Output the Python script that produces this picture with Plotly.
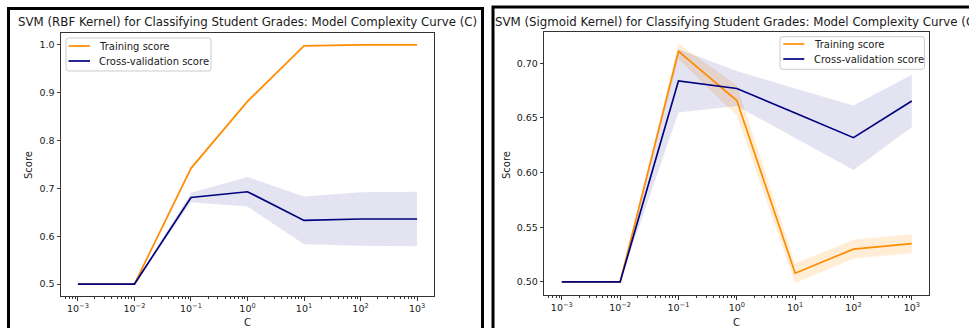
import numpy as np
import plotly.graph_objects as go

# ---------------- data ----------------
C_values = [1e-3, 1e-2, 1e-1, 1, 10, 100, 1000]
tick_labels = ["10<sup>−3</sup>", "10<sup>−2</sup>", "10<sup>−1</sup>", "10<sup>0</sup>",
               "10<sup>1</sup>", "10<sup>2</sup>", "10<sup>3</sup>"]

rbf_train_mean = [0.5, 0.5, 0.742, 0.882, 0.998, 1.0, 1.0]
rbf_train_std = [0.0, 0.0, 0.003, 0.003, 0.001, 0.0, 0.0]
rbf_cv_mean = [0.5, 0.5, 0.681, 0.693, 0.633, 0.636, 0.636]
rbf_cv_std = [0.0, 0.0, 0.010, 0.031, 0.050, 0.056, 0.057]

sig_train_mean = [0.5, 0.5, 0.711, 0.666, 0.508, 0.530, 0.535]
sig_train_std = [0.0, 0.0, 0.007, 0.014, 0.009, 0.0085, 0.0087]
sig_cv_mean = [0.5, 0.5, 0.684, 0.677, 0.6545, 0.632, 0.6655]
sig_cv_std = [0.0, 0.0, 0.029, 0.016, 0.0225, 0.0295, 0.024]

series_names = ["Training score", "Cross-validation score"]
titles = ["SVM (RBF Kernel) for Classifying Student Grades: Model Complexity Curve (C)",
          "SVM (Sigmoid Kernel) for Classifying Student Grades: Model Complexity Curve (C)"]

# ---------------- style ----------------
W, H = 969, 328
FONT = "DejaVu Sans"
ORANGE = "#FF8C00"
NAVY = "#000080"
ORANGE_FILL = "rgba(255,140,0,0.16)"
NAVY_FILL = "rgba(0,0,128,0.11)"
AX = "#333333"
TXT = "#1a1a1a"

# axes boxes in pixels: (left, right, top, bottom)
boxes = [(61, 434, 33, 296), (544.3, 929.3, 31.7, 295)]
# legend boxes in pixels: (left, right, top, bottom, line_x0, line_x1, text_x, row1_y, row2_y)
legends = [(66, 211, 38, 71, 68.5, 90, 97, 46, 61),
           (780, 924.5, 36.7, 69.3, 783.3, 804.3, 811.7, 44, 59)]


def px_x(v):
    return v / W


def px_y(v):
    return 1 - v / H


def rounded_rect(l, r, t, b, rad=2.5):
    pts = [
        f"M {px_x(l + rad)},{px_y(t)}",
        f"L {px_x(r - rad)},{px_y(t)}",
        f"Q {px_x(r)},{px_y(t)} {px_x(r)},{px_y(t + rad)}",
        f"L {px_x(r)},{px_y(b - rad)}",
        f"Q {px_x(r)},{px_y(b)} {px_x(r - rad)},{px_y(b)}",
        f"L {px_x(l + rad)},{px_y(b)}",
        f"Q {px_x(l)},{px_y(b)} {px_x(l)},{px_y(b - rad)}",
        f"L {px_x(l)},{px_y(t + rad)}",
        f"Q {px_x(l)},{px_y(t)} {px_x(l + rad)},{px_y(t)}",
        "Z",
    ]
    return " ".join(pts)


fig = go.Figure()

panels = [
    (rbf_train_mean, rbf_train_std, rbf_cv_mean, rbf_cv_std),
    (sig_train_mean, sig_train_std, sig_cv_mean, sig_cv_std),
]

yranges = []
for i, (tm, ts, cm, cs) in enumerate(panels):
    xa = "x" if i == 0 else "x2"
    ya = "y" if i == 0 else "y2"
    tm, ts, cm, cs = map(np.array, (tm, ts, cm, cs))
    for m, s, fc in ((tm, ts, ORANGE_FILL), (cm, cs, NAVY_FILL)):
        fig.add_trace(go.Scatter(
            x=list(C_values) + list(C_values[::-1]),
            y=list(m + s) + list((m - s)[::-1]),
            fill="toself", fillcolor=fc, line=dict(width=0),
            mode="lines", hoverinfo="skip", showlegend=False,
            xaxis=xa, yaxis=ya))
    fig.add_trace(go.Scatter(x=C_values, y=tm, mode="lines", name=series_names[0],
                             line=dict(color=ORANGE, width=1.7), xaxis=xa, yaxis=ya,
                             showlegend=False))
    fig.add_trace(go.Scatter(x=C_values, y=cm, mode="lines", name=series_names[1],
                             line=dict(color=NAVY, width=1.7), xaxis=xa, yaxis=ya,
                             showlegend=False))
    lo = min((tm - ts).min(), (cm - cs).min())
    hi = max((tm + ts).max(), (cm + cs).max())
    pad = (hi - lo) * 0.05
    yranges.append([lo - pad, hi + pad])

minor_vals = [k * 10.0 ** n for n in range(-4, 4) for k in range(2, 10)
              if 10 ** -3.3 <= k * 10.0 ** n <= 10 ** 3.3]

common_x = dict(type="log", range=[-3.3, 3.3], tickvals=C_values, ticktext=tick_labels,
                ticks="outside", ticklen=3.5, tickwidth=0.8, tickcolor=AX,
                showline=True, linecolor=AX, linewidth=1, mirror=True,
                showgrid=False, zeroline=False, automargin=False,
                tickfont=dict(family=FONT, size=9.5, color=TXT),
                minor=dict(tickvals=minor_vals, ticks="outside", ticklen=2,
                           tickwidth=0.6, tickcolor=AX, showgrid=False))
common_y = dict(ticks="outside", ticklen=3.5, tickwidth=0.8, tickcolor=AX,
                showline=True, linecolor=AX, linewidth=1, mirror=True,
                showgrid=False, zeroline=False, automargin=False,
                tickfont=dict(family=FONT, size=9.5, color=TXT))

l, r, t, b = boxes[0]
fig.update_layout(
    xaxis=dict(common_x, domain=[px_x(l), px_x(r)], anchor="y"),
    yaxis=dict(common_y, domain=[px_y(b), px_y(t)], anchor="x", range=yranges[0],
               tickvals=[0.5, 0.6, 0.7, 0.8, 0.9, 1.0], tickformat=".1f"),
)
l, r, t, b = boxes[1]
fig.update_layout(
    xaxis2=dict(common_x, domain=[px_x(l), px_x(r)], anchor="y2"),
    yaxis2=dict(common_y, domain=[px_y(b), px_y(t)], anchor="x2", range=yranges[1],
                tickvals=[0.5, 0.55, 0.6, 0.65, 0.7], tickformat=".2f"),
)

annotations = []
shapes = []
for i, (l, r, t, b) in enumerate(boxes):
    cx = (l + r) / 2
    annotations.append(dict(text=titles[i], x=px_x(cx), y=px_y(22), xref="paper", yref="paper",
                            showarrow=False, xanchor="center", yanchor="middle",
                            font=dict(family=FONT, size=11.8, color=TXT)))
    annotations.append(dict(text="C", x=px_x(cx), y=px_y(322), xref="paper", yref="paper",
                            showarrow=False, xanchor="center", yanchor="middle",
                            font=dict(family=FONT, size=10, color=TXT)))
    # legend (matplotlib style)
    ll, lr, lt, lb, lx0, lx1, tx, ry1, ry2 = legends[i]
    shapes.append(dict(type="path", xref="paper", yref="paper", path=rounded_rect(ll, lr, lt, lb),
                       line=dict(color="#cccccc", width=1), fillcolor="rgba(255,255,255,0.8)",
                       layer="above"))
    for name, col, ry in ((series_names[0], ORANGE, ry1), (series_names[1], NAVY, ry2)):
        shapes.append(dict(type="line", xref="paper", yref="paper",
                           x0=px_x(lx0), x1=px_x(lx1), y0=px_y(ry), y1=px_y(ry),
                           line=dict(color=col, width=1.7), layer="above"))
        annotations.append(dict(text=name, x=px_x(tx), y=px_y(ry), xref="paper", yref="paper",
                                showarrow=False, xanchor="left", yanchor="middle",
                                font=dict(family=FONT, size=10, color=TXT)))

annotations.append(dict(text="Score", x=px_x(28), y=px_y(165), xref="paper", yref="paper",
                        showarrow=False, textangle=-90, xanchor="center", yanchor="middle",
                        font=dict(family=FONT, size=10, color=TXT)))
annotations.append(dict(text="Score", x=px_x(506), y=px_y(165), xref="paper", yref="paper",
                        showarrow=False, textangle=-90, xanchor="center", yanchor="middle",
                        font=dict(family=FONT, size=10, color=TXT)))

shapes += [
    dict(type="path", xref="paper", yref="paper",
         path=f"M {px_x(8.5)},{-0.1} L {px_x(8.5)},{px_y(8.5)} L {px_x(482.5)},{px_y(8.5)} L {px_x(482.5)},{-0.1}",
         line=dict(color="black", width=3), layer="above"),
    dict(type="path", xref="paper", yref="paper",
         path=f"M {px_x(493)},{-0.1} L {px_x(493)},{px_y(7)} L {1.1},{px_y(7)}",
         line=dict(color="black", width=3), layer="above"),
]

fig.update_layout(
    width=W, height=H, margin=dict(l=0, r=0, t=0, b=0),
    paper_bgcolor="white", plot_bgcolor="white",
    annotations=annotations, shapes=shapes,
    font=dict(family=FONT, color=TXT),
    showlegend=False, hovermode=False,
)

fig.write_html("out.html")
